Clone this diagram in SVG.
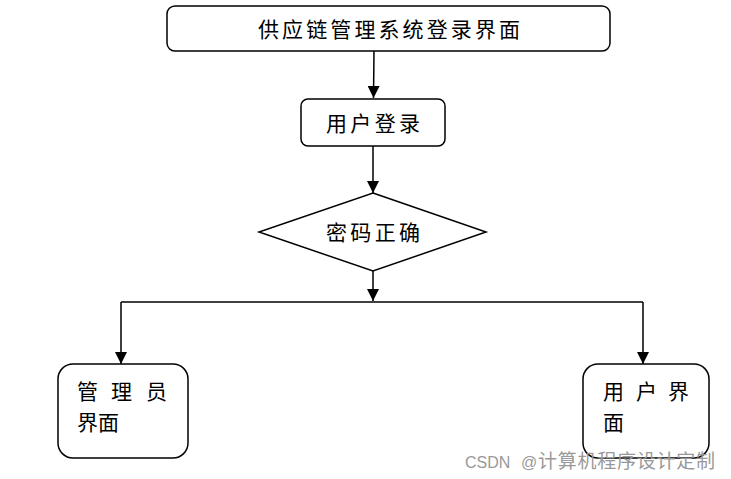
<svg xmlns="http://www.w3.org/2000/svg" width="731" height="479" viewBox="0 0 731 479">
<style>
.box{fill:#fff;stroke:#000;stroke-width:1.5}
.t{font-family:"Noto Sans CJK SC","Noto Sans",sans-serif;font-size:21px;fill:#000}
.c{stroke:#000;stroke-width:1.5;fill:none}
.wm{font-family:"Liberation Sans","Noto Sans CJK SC",sans-serif;font-size:16px;fill:#999}
</style>
<defs>
<marker id="ah" viewBox="0 0 12 12" refX="12" refY="6" markerWidth="12" markerHeight="12" markerUnits="userSpaceOnUse" orient="auto">
<path d="M0,0 L12,6 L0,12 z" fill="#000"/>
</marker>
</defs>
<rect width="731" height="479" fill="#fff"/>
<g id="connectors">
<line class="c" x1="374" y1="51" x2="373.5" y2="98" marker-end="url(#ah)"/>
<line class="c" x1="373" y1="146" x2="373" y2="193" marker-end="url(#ah)"/>
<line class="c" x1="373" y1="271" x2="373" y2="301" marker-end="url(#ah)"/>
<polyline class="c" points="121,302 643,302"/>
<line class="c" x1="121" y1="302" x2="121" y2="364" marker-end="url(#ah)"/>
<line class="c" x1="643" y1="302" x2="643" y2="364" marker-end="url(#ah)"/>
</g>
<g id="node-login-page">
<rect class="box" x="167" y="6" width="443" height="45" rx="8"/>
<text class="t" x="389" y="37" text-anchor="middle" textLength="262">供应链管理系统登录界面</text>
</g>
<g id="node-user-login">
<rect class="box" x="301" y="99" width="144" height="47" rx="7"/>
<text class="t" x="373" y="131" text-anchor="middle" textLength="94">用户登录</text>
</g>
<g id="node-password">
<polygon class="box" points="373,193 486,232 373,271 259,232"/>
<text class="t" x="373" y="240" text-anchor="middle" textLength="94">密码正确</text>
</g>
<g id="node-admin">
<rect class="box" x="58" y="364" width="130" height="94" rx="15"/>
<text class="t" x="77 111 146" y="399">管理员</text>
<text class="t" x="77" y="430">界面</text>
</g>
<g id="node-user">
<rect class="box" x="583" y="364" width="126" height="94" rx="15"/>
<text class="t" x="603 636 668" y="399">用户界</text>
<text class="t" x="603" y="430">面</text>
</g>
<text class="wm" x="465" y="468">CSDN <tspan x="521">@</tspan><tspan font-size="19" x="538" textLength="177">计算机程序设计定制</tspan></text>
</svg>
